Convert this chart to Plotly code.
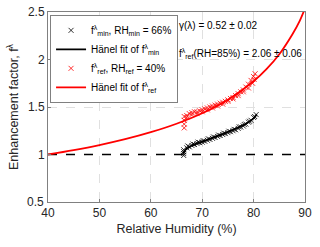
import plotly.graph_objects as go

# fitted curve for f_ref (Hänel fit)
rh_fit_ref = [40, 45, 50, 55, 60, 65, 70, 75, 80, 82.5, 85, 87.5, 89, 90]
f_fit_ref = [1.0, 1.046, 1.099, 1.161, 1.235, 1.324, 1.434, 1.577, 1.771, 1.898, 2.056, 2.261, 2.41, 2.539]

# measured f_ref points
rh_ref = [66.5, 66.5, 66.5, 66.5, 67, 67.5, 68, 68.5, 69, 69.5, 70, 70.5, 71, 71.5, 72, 72.5,
          73, 73.5, 74, 74.5, 75, 75.5, 76, 76.5, 77, 77.5, 78, 78.5, 79, 79.5, 80, 80.3,
          67, 68, 69, 70, 71, 72, 73, 74, 75, 76, 77, 78, 79, 79.8, 80.1]
f_ref = [1.28, 1.32, 1.36, 1.40, 1.41, 1.43, 1.44, 1.45, 1.45, 1.46, 1.47, 1.48, 1.49, 1.50, 1.51, 1.52,
         1.53, 1.54, 1.55, 1.56, 1.575, 1.59, 1.60, 1.62, 1.64, 1.66, 1.68, 1.71, 1.74, 1.78, 1.82, 1.85,
         1.39, 1.42, 1.43, 1.45, 1.47, 1.49, 1.51, 1.53, 1.56, 1.585, 1.62, 1.66, 1.70, 1.75, 1.79]

# fitted curve for f_min
rh_fit_min = [66.3, 66.6, 67, 68, 70, 72, 74, 76, 78, 79, 80, 80.6]
f_fit_min = [1.0, 1.04, 1.06, 1.095, 1.135, 1.175, 1.215, 1.26, 1.31, 1.34, 1.38, 1.42]

# measured f_min points
rh_min = [66.4, 66.4, 66.4, 66.4, 67, 67.5, 68, 68.5, 69, 69.5, 70, 70.5, 71, 71.5, 72, 72.5,
          73, 73.5, 74, 74.5, 75, 75.5, 76, 76.5, 77, 77.5, 78, 78.5, 79, 79.5, 80, 80.5,
          67.2, 68.2, 69.2, 70.2, 71.2, 72.2, 73.2, 74.2, 75.2, 76.2, 77.2, 78.2, 79.2, 80.2]
f_min = [0.99, 1.01, 1.03, 1.05, 1.07, 1.08, 1.095, 1.105, 1.115, 1.125, 1.13, 1.14, 1.15, 1.16, 1.17, 1.18,
         1.19, 1.20, 1.21, 1.22, 1.23, 1.24, 1.25, 1.26, 1.275, 1.29, 1.30, 1.32, 1.34, 1.36, 1.39, 1.42,
         1.09, 1.11, 1.13, 1.145, 1.165, 1.185, 1.205, 1.225, 1.245, 1.265, 1.29, 1.315, 1.35, 1.40]

ref_line_x = [40, 90]
ref_line_y = [1, 1]

x_ticks = [40, 50, 60, 70, 80, 90]
y_ticks = [0.5, 1, 1.5, 2, 2.5]
y_tick_labels = ["0.5", "1", "1.5", "2", "2.5"]

FONT = "Liberation Sans, Arial, sans-serif"
TICK_FONT = dict(family=FONT, size=12, color="#262626")

fig = go.Figure()
fig.add_trace(go.Scatter(x=ref_line_x, y=ref_line_y, mode="lines", showlegend=False,
                         line=dict(color="black", width=1.5, dash="dash")))
fig.add_trace(go.Scatter(x=rh_min, y=f_min, mode="markers",
                         name="f<sup>λ</sup><sub>min</sub>, RH<sub>min</sub> = 66%",
                         marker=dict(symbol="x-thin", size=5, line=dict(color="black", width=0.8), color="black")))
fig.add_trace(go.Scatter(x=rh_fit_min, y=f_fit_min, mode="lines", line_shape="spline",
                         name="Hänel fit of f<sup>λ</sup><sub>min</sub>",
                         line=dict(color="black", width=1.8)))
fig.add_trace(go.Scatter(x=rh_ref, y=f_ref, mode="markers",
                         name="f<sup>λ</sup><sub>ref</sub>, RH<sub>ref</sub> = 40%",
                         marker=dict(symbol="x-thin", size=5, line=dict(color="red", width=0.8), color="red")))
fig.add_trace(go.Scatter(x=rh_fit_ref, y=f_fit_ref, mode="lines", line_shape="spline",
                         name="Hänel fit of f<sup>λ</sup><sub>ref</sub>",
                         line=dict(color="red", width=1.8)))

fig.add_annotation(x=0.502, y=0.928, xref="paper", yref="paper", xanchor="left", yanchor="middle",
                   text="γ(λ) = 0.52 ± 0.02", showarrow=False,
                   font=dict(family=FONT, size=10, color="black"))
fig.add_annotation(x=0.502, y=0.782, xref="paper", yref="paper", xanchor="left", yanchor="middle",
                   text="f<sup>λ</sup><sub>ref</sub>(RH=85%) = 2.06 ± 0.06", showarrow=False,
                   font=dict(family=FONT, size=10, color="black"))

# bottom y tick label (Plotly drops it at the corner), placed at its axis value
fig.add_annotation(x=0, xref="paper", y=y_ticks[0], yref="y", xanchor="right", yanchor="middle",
                   xshift=-2, text=y_tick_labels[0], showarrow=False, font=TICK_FONT)

axis_common = dict(showline=True, linecolor="#808080", linewidth=1, mirror=True,
                   showgrid=True, gridcolor="#e0e0e0", griddash="dash", gridwidth=1,
                   zeroline=False, ticks="inside", ticklen=3, tickcolor="#808080",
                   automargin=False, ticklabeloverflow="allow",
                   tickfont=TICK_FONT)

fig.update_xaxes(range=[40, 90], tickvals=x_ticks, ticktext=[str(v) for v in x_ticks],
                 title=dict(text="Relative Humidity (%)", font=dict(family=FONT, size=12.5, color="#262626"),
                            standoff=4), **axis_common)
fig.update_yaxes(range=[0.5, 2.5], tickvals=y_ticks[1:], ticktext=y_tick_labels[1:],
                 title=dict(text="Enhancement factor, f<sup>λ</sup>", font=dict(family=FONT, size=12.5, color="#262626"),
                            standoff=6), **axis_common)

fig.update_layout(width=320, height=247, margin=dict(l=48, r=15, t=12, b=45),
                  paper_bgcolor="white", plot_bgcolor="white",
                  font=dict(family=FONT, color="black"),
                  hovermode=False,
                  legend=dict(x=0.008, y=0.985, xanchor="left", yanchor="top",
                              bgcolor="white", bordercolor="#808080", borderwidth=1,
                              font=dict(family=FONT, size=10, color="black"),
                              itemwidth=30, tracegroupgap=0))

# remove the default 8px page margin so the figure fills the window exactly
fig.write_html("out.html", config={"displayModeBar": False},
               post_script="document.body.style.margin='0';document.body.style.overflow='hidden';")
